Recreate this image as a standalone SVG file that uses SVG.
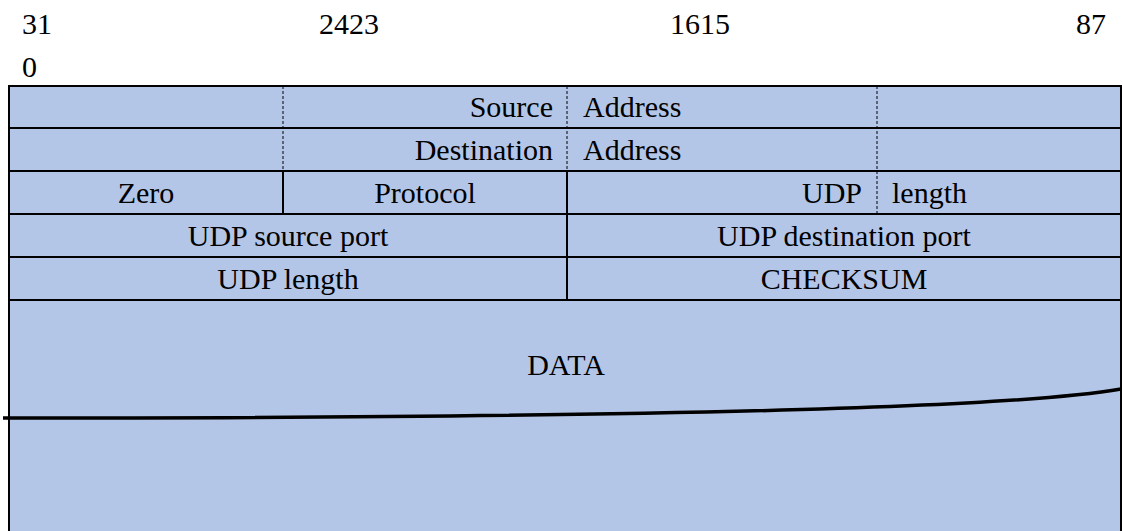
<svg xmlns="http://www.w3.org/2000/svg" width="1123" height="531" viewBox="0 0 1123 531" font-family="'Liberation Serif', 'Times New Roman', Times, 'DejaVu Serif', serif" font-size="30">
<style>
.m{text-anchor:middle}.e{text-anchor:end}
.s{stroke:#000;stroke-width:2;fill:none}
.d{stroke:#000;stroke-width:1;stroke-dasharray:3 2;fill:none}
</style>
<rect width="1123" height="531" fill="#fff"/>
<g id="header">
<text x="22" y="34">31</text>
<text x="22" y="77">0</text>
<text x="319" y="34">2423</text>
<text x="670" y="34">1615</text>
<text x="1076" y="34">87</text>
</g>
<g id="table">
<rect x="9" y="86" width="1112" height="450" fill="#b4c6e7"/>
<path class="s" d="M9,531V86H1121V531M9,128H1121M9,171H1121M9,214H1121M9,257H1121M9,300H1121M283,171V214M567,171V300"/>
<path class="d" d="M283,86V171M567,86V171M877,86V214"/>
</g>
<g id="row1"><text class="e" x="553" y="117">Source</text><text x="583" y="117">Address</text></g>
<g id="row2"><text class="e" x="553" y="160">Destination</text><text x="583" y="160">Address</text></g>
<g id="row3"><text class="m" x="146" y="203">Zero</text><text class="m" x="425" y="203">Protocol</text><text class="e" x="862" y="203">UDP</text><text x="892" y="203">length</text></g>
<g id="row4"><text class="m" x="288" y="246">UDP source port</text><text class="m" x="844" y="246">UDP destination port</text></g>
<g id="row5"><text class="m" x="288" y="289">UDP length</text><text class="m" x="844" y="289">CHECKSUM</text></g>
<g id="data"><text class="m" x="566" y="375">DATA</text></g>
<g id="connectors"><path d="M3,418 C600,418 1000,410 1121,389" stroke="#000" stroke-width="3.5" fill="none"/></g>
</svg>
